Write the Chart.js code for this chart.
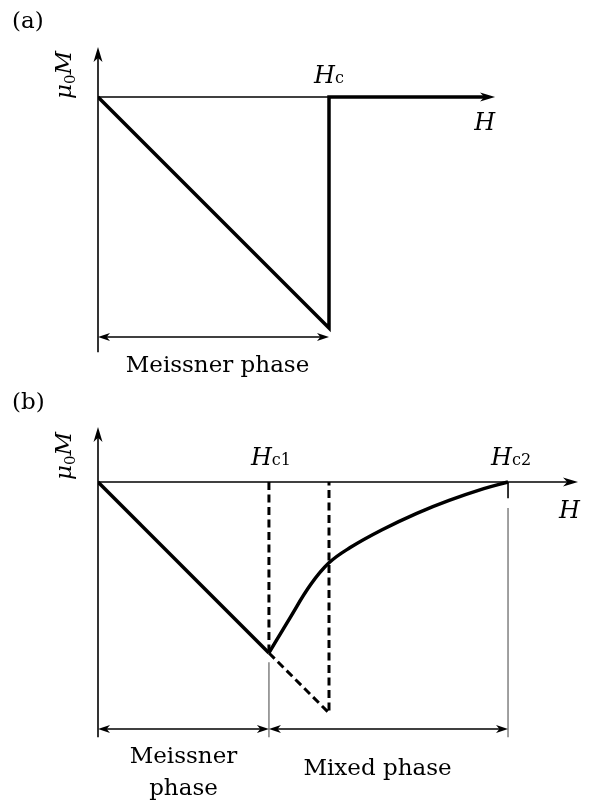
<!DOCTYPE html>
<html>
<head>
<meta charset="utf-8">
<script src="https://cdn.jsdelivr.net/npm/chart.js@4/dist/chart.umd.min.js"></script>
<style>
  html, body { margin: 0; padding: 0; background: #fff; }
  #wrap { position: relative; width: 590px; height: 802px; }
  #wrap canvas { position: absolute; left: 0; }
  #magA { top: 0; }
  #magB { top: 385px; }
</style>
</head>
<body>
<div id="wrap">
  <canvas id="magA" width="590" height="390"></canvas>
  <canvas id="magB" width="590" height="417"></canvas>
</div>
<script>
// (a) type-I: magnetisation vs applied field
const HC = 10;
const fieldA = [0, HC, HC, 16.8];
const magA = [0, -HC, 0, 0];

// (b) type-II: Meissner branch, mixed-state curve and the guide lines
const HC1 = 7.4;
const HC2 = 17.75;
const fieldMeissner = [0, HC1];
const magMeissner = [0, -HC1];
const fieldMixed = [7.4, 8.3, 9.2, 10, 10.9, 12.3, 13.8, 15.2, 16.7, 17.75];
const magMixed = [-7.4, -5.9, -4.45, -3.5, -2.85, -2.07, -1.36, -0.8, -0.29, 0];
const fieldHc1Guide = [HC1, HC1];
const magHc1Guide = [0, -HC1];
const fieldHcGuide = [HC1, HC, HC];
const magHcGuide = [-HC1, -HC, 0];

const panelTags = ['(a)', '(b)'];
const phaseNames = ['Meissner phase', 'Meissner', 'phase', 'Mixed phase'];

const UNIT = 23.1; // px per unit, same on both axes
const SERIF = '"DejaVu Serif", serif';

function pts(xs, ys) {
  return xs.map((x, i) => ({x: x, y: ys[i]}));
}

function px(chart, h, m) {
  return [chart.scales.x.getPixelForValue(h), chart.scales.y.getPixelForValue(m)];
}

function segment(ctx, x1, y1, x2, y2) {
  ctx.beginPath();
  ctx.moveTo(x1, y1);
  ctx.lineTo(x2, y2);
  ctx.stroke();
}

function arrowHead(ctx, x, y, ang, len, half) {
  ctx.save();
  ctx.translate(x, y);
  ctx.rotate(ang);
  ctx.beginPath();
  ctx.moveTo(0, 0);
  ctx.lineTo(-len, -half);
  ctx.lineTo(-len * 0.72, 0);
  ctx.lineTo(-len, half);
  ctx.closePath();
  ctx.fill();
  ctx.restore();
}

function dimArrow(ctx, x1, x2, y) {
  ctx.lineWidth = 1.6;
  segment(ctx, x1 + 5, y, x2 - 5, y);
  arrowHead(ctx, x1, y, Math.PI, 12, 4);
  arrowHead(ctx, x2, y, 0, 12, 4);
}

// axes with arrow tips; yTip / xTip in data units
function drawAxes(chart, yTip, xTip, yBottom) {
  const ctx = chart.ctx;
  const [x0, y0] = px(chart, 0, 0);
  const [, yT] = px(chart, 0, yTip);
  const [, yB] = px(chart, 0, yBottom);
  const [xT] = px(chart, xTip, 0);
  ctx.save();
  ctx.strokeStyle = '#000';
  ctx.fillStyle = '#000';
  ctx.lineWidth = 1.6;
  segment(ctx, x0, yB, x0, yT + 6);
  segment(ctx, x0, y0, xT - 6, y0);
  arrowHead(ctx, x0, yT, -Math.PI / 2, 15, 4.5);
  arrowHead(ctx, xT, y0, 0, 15, 4.5);
  ctx.restore();
}

function fieldLabel(ctx, sub, cx, baseline) {
  ctx.font = 'italic 24px ' + SERIF;
  const wH = ctx.measureText('H').width;
  ctx.font = '16px ' + SERIF;
  const wS = ctx.measureText(sub).width;
  const x = cx - (wH + wS) / 2;
  ctx.textAlign = 'left';
  ctx.font = 'italic 24px ' + SERIF;
  ctx.fillText('H', x, baseline);
  ctx.font = '16px ' + SERIF;
  ctx.fillText(sub, x + wH, baseline);
}

function magLabel(ctx, bx, cy) {
  ctx.save();
  ctx.translate(bx, cy);
  ctx.rotate(-Math.PI / 2);
  ctx.textAlign = 'left';
  ctx.font = 'italic 23px ' + SERIF;
  const wMu = ctx.measureText('\u03bc').width;
  const wM = ctx.measureText('M').width;
  ctx.font = '15px ' + SERIF;
  const w0 = ctx.measureText('0').width;
  let x = -(wMu + w0 + wM) / 2;
  ctx.font = 'italic 23px ' + SERIF;
  ctx.fillText('\u03bc', x, 0);
  x += wMu;
  ctx.font = '15px ' + SERIF;
  ctx.fillText('0', x, 4);
  x += w0;
  ctx.font = 'italic 23px ' + SERIF;
  ctx.fillText('M', x, 0);
  ctx.restore();
}

const panelA = {
  id: 'panelA',
  beforeDatasetsDraw(chart) {
    drawAxes(chart, 2.16, 17.19, -11.05);
  },
  afterDatasetsDraw(chart) {
    const ctx = chart.ctx;
    const [x0, y0] = px(chart, 0, 0);
    const [xc, yArr] = px(chart, HC, -10.39);
    ctx.save();
    ctx.fillStyle = '#000';
    ctx.strokeStyle = '#000';
    dimArrow(ctx, x0, xc, yArr);

    ctx.textBaseline = 'alphabetic';
    ctx.font = '23px ' + SERIF;
    ctx.textAlign = 'left';
    ctx.fillText(panelTags[0], 12, 28);

    magLabel(ctx, x0 - 27, y0 - 22);
    fieldLabel(ctx, 'c', xc, y0 - 14);

    ctx.font = 'italic 24px ' + SERIF;
    ctx.textAlign = 'right';
    const [xT] = px(chart, 17.19, 0);
    ctx.fillText('H', xT, y0 + 33);

    ctx.font = '23px ' + SERIF;
    ctx.textAlign = 'center';
    ctx.fillText(phaseNames[0], (x0 + xc) / 2 + 4, yArr + 35);
    ctx.restore();
  }
};

const panelB = {
  id: 'panelB',
  beforeDatasetsDraw(chart) {
    drawAxes(chart, 2.38, 20.78, -11.05);
    const ctx = chart.ctx;
    ctx.save();
    ctx.lineWidth = 1.6;
    ctx.strokeStyle = '#000';
    let [a, b] = px(chart, HC2, 0);
    let [, c] = px(chart, HC2, -0.7);
    segment(ctx, a, b, a, c);
    ctx.strokeStyle = '#808080';
    ctx.lineWidth = 1.5;
    [, b] = px(chart, HC2, -1.13);
    [, c] = px(chart, HC2, -11.05);
    segment(ctx, a, b, a, c);
    [a, b] = px(chart, HC1, -7.8);
    segment(ctx, a, b, a, c);
    ctx.restore();
  },
  afterDatasetsDraw(chart) {
    const ctx = chart.ctx;
    const [x0, y0] = px(chart, 0, 0);
    const [x1, yArr] = px(chart, HC1, -10.69);
    const [x2] = px(chart, HC2, 0);
    ctx.save();
    ctx.fillStyle = '#000';
    ctx.strokeStyle = '#000';
    dimArrow(ctx, x0, x1, yArr);
    dimArrow(ctx, x1, x2, yArr);

    ctx.textBaseline = 'alphabetic';
    ctx.font = '23px ' + SERIF;
    ctx.textAlign = 'left';
    ctx.fillText(panelTags[1], 12, 24);

    magLabel(ctx, x0 - 27, y0 - 26);
    fieldLabel(ctx, 'c1', x1 + 2, y0 - 17);
    fieldLabel(ctx, 'c2', x2 + 3, y0 - 17);

    ctx.font = 'italic 24px ' + SERIF;
    ctx.textAlign = 'right';
    const [xT] = px(chart, 20.78, 0);
    ctx.fillText('H', xT + 2, y0 + 36);

    ctx.font = '23px ' + SERIF;
    ctx.textAlign = 'center';
    ctx.fillText(phaseNames[1], (x0 + x1) / 2, yArr + 34);
    ctx.fillText(phaseNames[2], (x0 + x1) / 2, yArr + 66);
    ctx.fillText(phaseNames[3], (x1 + x2) / 2 - 11, yArr + 46);
    ctx.restore();
  }
};

function solid(data, extra) {
  return Object.assign({
    data: data,
    showLine: true,
    borderColor: '#000',
    borderWidth: 3.5,
    pointRadius: 0,
    tension: 0,
    fill: false
  }, extra || {});
}

function panelOptions(canvasHeight) {
  return {
    responsive: false,
    animation: false,
    layout: {
      padding: {
        left: 98,
        top: 97 - 2.4 * UNIT,
        right: 590 - 98 - 21 * UNIT,
        bottom: canvasHeight - 97 - 12 * UNIT
      }
    },
    plugins: {legend: {display: false}, tooltip: {enabled: false}},
    scales: {
      x: {type: 'linear', min: 0, max: 21, display: false},
      y: {type: 'linear', min: -12, max: 2.4, display: false}
    }
  };
}

new Chart(document.getElementById('magA'), {
  type: 'scatter',
  data: {
    datasets: [solid(pts(fieldA, magA))]
  },
  options: panelOptions(390),
  plugins: [panelA]
});

new Chart(document.getElementById('magB'), {
  type: 'scatter',
  data: {
    datasets: [
      solid(pts(fieldMeissner, magMeissner)),
      solid(pts(fieldMixed, magMixed), {tension: 0.4}),
      solid(pts(fieldHc1Guide, magHc1Guide), {borderWidth: 3, borderDash: [8, 4.5]}),
      solid(pts(fieldHcGuide, magHcGuide), {borderWidth: 3, borderDash: [8, 4.5]})
    ]
  },
  options: panelOptions(417),
  plugins: [panelB]
});
</script>
</body>
</html>
